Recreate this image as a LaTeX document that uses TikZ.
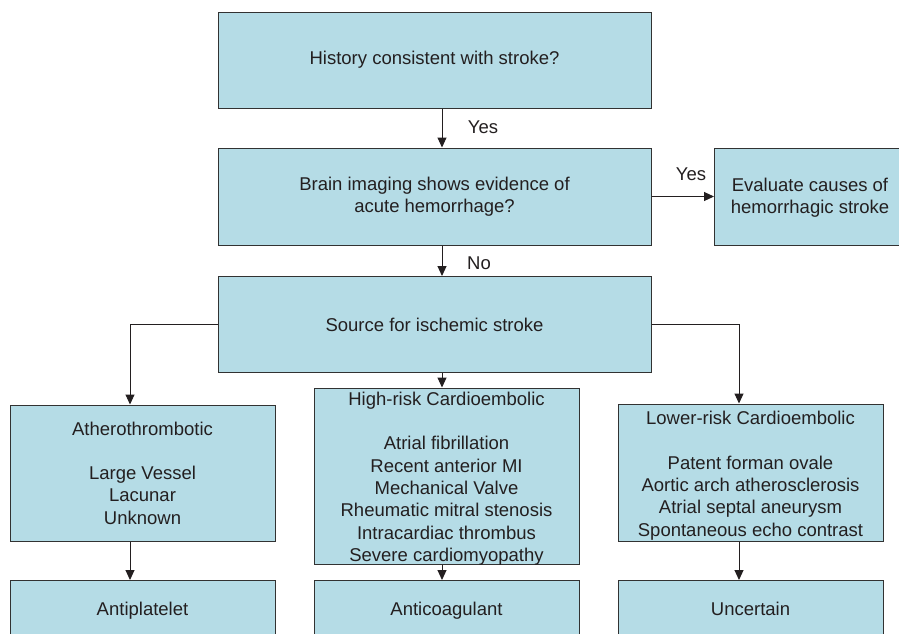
\documentclass[tikz,border=0pt]{standalone}
\usepackage{fontspec}
\setmainfont{Liberation Sans}
\usetikzlibrary{arrows.meta}
\definecolor{boxfill}{RGB}{181,220,230}
\definecolor{boxline}{RGB}{50,50,50}
\definecolor{ink}{RGB}{35,31,32}
\begin{document}
\begin{tikzpicture}[x=1pt,y=-1pt,
  box/.style={draw=boxline, fill=boxfill, line width=1pt, rectangle, inner sep=0pt,
    align=center, text=ink, font=\fontsize{18.5}{22.3}\selectfont},
  txt/.style={text=ink, inner sep=0pt, align=center, font=\fontsize{18.5}{22.3}\selectfont},
  arr/.style={draw=ink, line width=1pt, -{Triangle[length=10pt,width=9pt]}},
  ln/.style={draw=ink, line width=1pt}]
\useasboundingbox (0,0) rectangle (899,633);
\clip (0,0) rectangle (899,633);
\fill[white] (0,0) rectangle (899,633);
\coordinate (cA) at (130,0);
\coordinate (cB) at (442,0);
\coordinate (cC) at (739,0);
% top chain
\node[box, minimum width=433, minimum height=96] (b1) at (434.5,60) {History consistent with stroke?};
\node[box, minimum width=433, minimum height=97] (b2) at (434.5,196.5) {Brain imaging shows evidence of\\acute hemorrhage?};
\node[box, minimum width=200, minimum height=97, anchor=west] (ev) at (714,196.5) {};
\node[txt] (evt) at (810,198) {Evaluate causes of\\hemorrhagic stroke};
\node[box, minimum width=433, minimum height=96] (src) at (434.5,324.5) {Source for ischemic stroke};
% middle row
\node[box, minimum width=265, minimum height=136] (ath) at (142.5,473) {Atherothrombotic\\[22.3pt]Large Vessel\\Lacunar\\Unknown};
\node[box, minimum width=265, minimum height=176] (hr) at (446.5,476) {};
\node[txt] (hrt) at (446.5,478.5) {High-risk Cardioembolic\\[22.3pt]Atrial fibrillation\\Recent anterior MI\\Mechanical Valve\\Rheumatic mitral stenosis\\Intracardiac thrombus\\Severe cardiomyopathy};
\node[box, minimum width=265, minimum height=137] (lr) at (750.5,472.5) {};
\node[txt] (lrt) at (750.5,475.5) {Lower-risk Cardioembolic\\[22.3pt]Patent forman ovale\\Aortic arch atherosclerosis\\Atrial septal aneurysm\\Spontaneous echo contrast};
% bottom row (cut off)
\node[box, minimum width=265, minimum height=90, anchor=north] (ap) at (142.5,580) {};
\node[box, minimum width=265, minimum height=90, anchor=north] (ac) at (446.5,580) {};
\node[box, minimum width=265, minimum height=90, anchor=north] (un) at (750.5,580) {};
\node[txt, anchor=base] (apt) at (142.5,615.5) {Antiplatelet};
\node[txt, anchor=base] (act) at (446.5,615.5) {Anticoagulant};
\node[txt, anchor=base] (unt) at (750.5,615.5) {Uncertain};
% connectors
\draw[arr] (b1.south -| cB) -- (b2.north -| cB);
\node[txt] (yes1) at (483,127) {Yes};
\draw[arr] (b2.east) -- (ev.west);
\node[txt] (yes2) at (691,174) {Yes};
\draw[arr] (b2.south -| cB) -- (src.north -| cB);
\node[txt] (no1) at (479,263) {No};
\draw[arr] (src.west) -| (ath.north -| cA);
\draw[arr] (src.south -| cB) -- (hr.north -| cB);
\draw[arr] (src.east) -| (lr.north -| cC);
\draw[arr] (ath.south -| cA) -- (ap.north -| cA);
\draw[arr] (hr.south -| cB) -- (ac.north -| cB);
\draw[arr] (lr.south -| cC) -- (un.north -| cC);
\end{tikzpicture}
\end{document}
